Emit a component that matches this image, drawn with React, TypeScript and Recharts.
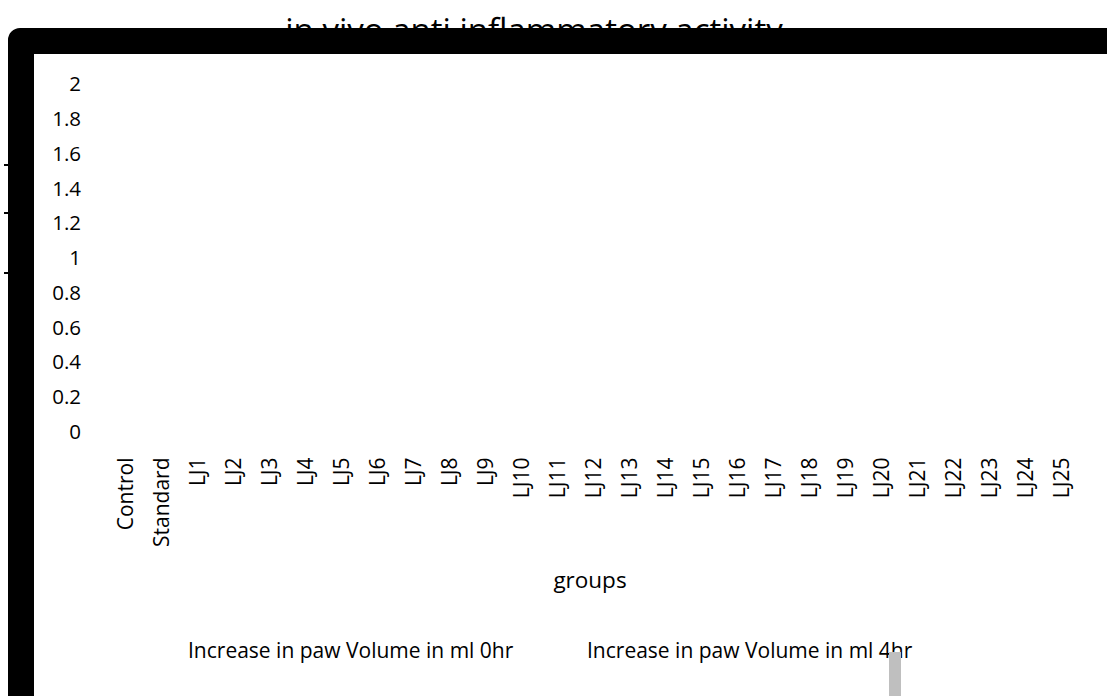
import React from 'react';
import { BarChart, Bar, XAxis, YAxis, Legend, Label } from 'recharts';

const categories = [
  'Control', 'Standard', 'LJ1', 'LJ2', 'LJ3', 'LJ4', 'LJ5', 'LJ6', 'LJ7', 'LJ8', 'LJ9',
  'LJ10', 'LJ11', 'LJ12', 'LJ13', 'LJ14', 'LJ15', 'LJ16', 'LJ17', 'LJ18', 'LJ19',
  'LJ20', 'LJ21', 'LJ22', 'LJ23', 'LJ24', 'LJ25',
];

// no bars are visible in the picture
const paw0hr = [0, 0, 0, 0, 0, 0, 0, 0, 0, 0, 0, 0, 0, 0, 0, 0, 0, 0, 0, 0, 0, 0, 0, 0, 0, 0, 0];
const paw4hr = [0, 0, 0, 0, 0, 0, 0, 0, 0, 0, 0, 0, 0, 0, 0, 0, 0, 0, 0, 0, 0, 0, 0, 0, 0, 0, 0];

const yTicks = [0, 0.2, 0.4, 0.6, 0.8, 1, 1.2, 1.4, 1.6, 1.8, 2];

const seriesNames = ['Increase in paw Volume in ml 0hr', 'Increase in paw Volume in ml 4hr'];

const data = categories.map((name, i) => ({ name, h0: paw0hr[i], h4: paw4hr[i] }));

const font = '"Open Sans", sans-serif';

const CategoryTick = (props: any) => {
  const { x, y, payload } = props;
  return (
    <text
      transform={`translate(${x},${y + 24}) rotate(-90)`}
      textAnchor="end"
      dominantBaseline="central"
      fontFamily={font}
      fontSize={21}
      fill="#000"
    >
      {payload.value}
    </text>
  );
};

const legendPos = [188, 587];

const LegendContent = (props: any) => {
  const items = props.payload || [];
  return (
    <div style={{ position: 'relative', width: 1107, height: 30, fontFamily: font, fontSize: 21, lineHeight: '21px', color: '#000' }}>
      {items.map((it: any, i: number) => (
        <span key={i} style={{ position: 'absolute', left: legendPos[i], top: 0, whiteSpace: 'nowrap' }}>
          {it.value}
        </span>
      ))}
      <span style={{ position: 'absolute', left: 889, top: 12, width: 12, height: 44, background: '#bfbfbf' }} />
    </div>
  );
};

export default function App() {
  return (
    <div style={{ position: 'fixed', left: 0, top: 0, width: 1107, height: 696, overflow: 'hidden', background: '#fff' }}>
      <div
        style={{
          position: 'absolute', left: 534, top: 13, transform: 'translateX(-50%)',
          fontFamily: font, fontSize: 33, lineHeight: '33px', whiteSpace: 'nowrap', color: '#000',
        }}
      >
        in vivo anti inflammatory activity
      </div>
      <div style={{ position: 'absolute', left: 0, top: 0 }}>
        <BarChart width={1107} height={696} data={data} margin={{ top: 84, right: 28, bottom: 104.5, left: 0 }} barGap={0}>
          <XAxis
            dataKey="name"
            height={130}
            axisLine={false}
            tickLine={false}
            tickSize={0}
            interval={0}
            tick={<CategoryTick />}
          >
            <Label
              content={(p: any) => {
                const vb = p.viewBox;
                return (
                  <text x={vb.x + vb.width / 2 - 3} y={588} textAnchor="middle" fontFamily={font} fontSize={22.5} fill="#000">
                    groups
                  </text>
                );
              }}
            />
          </XAxis>
          <YAxis
            width={107}
            domain={[0, 2]}
            ticks={yTicks}
            axisLine={false}
            tickLine={false}
            tickSize={0}
            tickMargin={26}
            tick={{ fontFamily: font, fontSize: 20.5, fill: '#000' }}
          />
          <Legend
            verticalAlign="bottom"
            content={<LegendContent />}
            wrapperStyle={{ top: 640, left: 0, width: 1107, height: 30 }}
          />
          <Bar dataKey="h0" name={seriesNames[0]} fill="#7f7f7f" isAnimationActive={false} />
          <Bar dataKey="h4" name={seriesNames[1]} fill="#bfbfbf" isAnimationActive={false} />
        </BarChart>
      </div>
      <div
        style={{
          position: 'absolute', left: 8, top: 28, width: 1300, height: 900,
          border: '26px solid #000', borderRadius: 12, boxSizing: 'border-box', pointerEvents: 'none',
        }}
      />
      {[165, 213, 273].map((t) => (
        <div key={t} style={{ position: 'absolute', left: 4, top: t - 1, width: 4, height: 2, background: '#000' }} />
      ))}
    </div>
  );
}
